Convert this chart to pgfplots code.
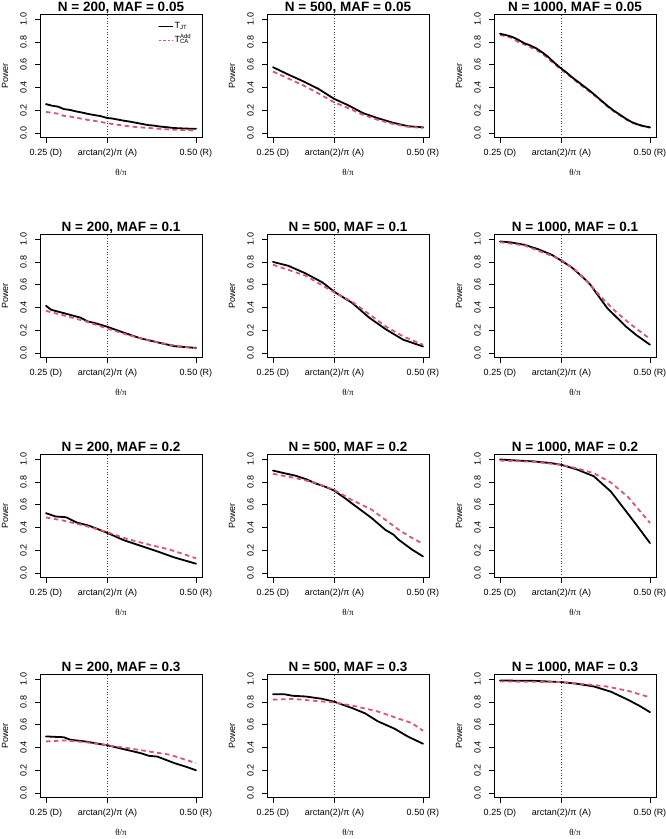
\documentclass[border=0pt]{standalone}
\usepackage{fontspec}
\setmainfont{Liberation Sans}
\newfontfamily\seriffont{Liberation Serif}
\usepackage{pgfplots}
\pgfplotsset{compat=1.18}
\definecolor{rred}{HTML}{DF536B}
\pgfplotsset{
  rpanel/.style={
    scale only axis, width=162pt, height=123pt,
    xmin=0.24, xmax=0.51, ymin=-0.04, ymax=1.04,
    anchor=south west,
    axis line style={line width=0.75pt, black},
    tick align=outside, tick pos=left,
    major tick length=5pt,
    tick style={line width=0.75pt, black},
    xtick={0.25,0.352416,0.5},
    xticklabels={0.25 (D), arctan(2)/π (A), 0.50 (R)},
    ytick={0,0.2,0.4,0.6,0.8,1},
    yticklabels={0.0,0.2,0.4,0.6,0.8,1.0},
    ticklabel style={font=\fontsize{9}{10}\selectfont},
    xticklabel style={anchor=base, inner sep=0pt, yshift=-12.7pt},
    yticklabel style={xshift=-8.3pt, rotate=90, anchor=base, inner sep=0pt},
    xlabel={\seriffont θ/π},
    ylabel={Power},
    label style={font=\fontsize{9}{10}\selectfont},
    xlabel style={at={(axis description cs:0.5,0)}, anchor=base, inner sep=0pt, yshift=-37.7pt},
    ylabel style={at={(axis description cs:-0.1975,0.5)}, anchor=base, inner sep=0pt},
    title style={at={(axis description cs:0.5,1)}, anchor=base, inner sep=0pt, yshift=-2.6pt, font=\bfseries\fontsize{13.5}{15}\selectfont},
  },
  jt/.style={black, line width=1.8pt, line join=round, line cap=round},
  ca/.style={rred, line width=1.8pt, dash pattern=on 4.5pt off 3.5pt, line join=round},
  vline/.style={black!75, line width=0.7pt, dash pattern=on 0.7pt off 2pt, forget plot},
}
\begin{document}
\begin{tikzpicture}
\useasboundingbox (0,0) rectangle (665pt,839pt);
% ---------------- Row 1: MAF = 0.05
\begin{axis}[rpanel, at={(40pt,701.4pt)}, title={N = 200, MAF = 0.05},
  legend style={draw=none, fill=none, at={(axis description cs:0.73,0.85)}, anchor=west, inner sep=0pt,
    font=\fontsize{9}{10}\selectfont, nodes={text height=6.5pt, text depth=2pt, inner sep=1.5pt}, row sep=2.5pt},
  legend cell align=left]
\addplot[vline] coordinates {(0.352416,-0.04) (0.352416,1.04)};
\addplot[jt, legend image code/.code={\draw[black,line width=0.7pt] (0pt,0pt) -- (14pt,0pt);}] coordinates {(0.25,0.254)(0.26,0.24)(0.27,0.232)(0.28,0.21)(0.29,0.203)(0.30,0.19)(0.31,0.18)(0.32,0.168)(0.33,0.158)(0.34,0.15)(0.352,0.132)(0.36,0.128)(0.37,0.118)(0.38,0.108)(0.39,0.10)(0.40,0.09)(0.41,0.08)(0.42,0.07)(0.43,0.065)(0.44,0.057)(0.45,0.052)(0.46,0.046)(0.47,0.042)(0.48,0.04)(0.49,0.038)(0.50,0.037)};
\addlegendentry{T\textsubscript{JT}}
\addplot[ca, legend image code/.code={\draw[rred,line width=0.7pt,dash pattern=on 2.5pt off 2pt] (0pt,0pt) -- (14pt,0pt);}] coordinates {(0.25,0.185)(0.26,0.178)(0.27,0.17)(0.28,0.15)(0.29,0.145)(0.30,0.135)(0.31,0.125)(0.32,0.115)(0.33,0.108)(0.34,0.098)(0.352,0.087)(0.36,0.08)(0.37,0.072)(0.38,0.065)(0.39,0.058)(0.40,0.053)(0.42,0.045)(0.44,0.037)(0.46,0.03)(0.48,0.026)(0.50,0.022)};
\addlegendentry{T\rlap{\textsuperscript{Add}}\textsubscript{CA}}
\end{axis}
\begin{axis}[rpanel, at={(267pt,701.4pt)}, title={N = 500, MAF = 0.05}]
\addplot[vline] coordinates {(0.352416,-0.04) (0.352416,1.04)};
\addplot[jt] coordinates {(0.25,0.578)(0.275,0.515)(0.30,0.455)(0.325,0.39)(0.352,0.30)(0.375,0.245)(0.40,0.175)(0.425,0.13)(0.45,0.09)(0.475,0.06)(0.50,0.05)};
\addplot[ca] coordinates {(0.25,0.54)(0.275,0.48)(0.30,0.42)(0.325,0.35)(0.352,0.27)(0.375,0.22)(0.40,0.16)(0.425,0.115)(0.45,0.08)(0.475,0.055)(0.50,0.045)};
\end{axis}
\begin{axis}[rpanel, at={(494pt,701.4pt)}, title={N = 1000, MAF = 0.05}]
\addplot[vline] coordinates {(0.352416,-0.04) (0.352416,1.04)};
\addplot[ca] coordinates {(0.25,0.86)(0.26,0.85)(0.27,0.835)(0.28,0.80)(0.29,0.78)(0.30,0.755)(0.31,0.73)(0.32,0.70)(0.33,0.655)(0.34,0.61)(0.35,0.565)(0.36,0.525)(0.37,0.485)(0.38,0.44)(0.39,0.40)(0.40,0.36)(0.41,0.32)(0.42,0.275)(0.43,0.23)(0.44,0.19)(0.45,0.155)(0.46,0.12)(0.47,0.092)(0.48,0.072)(0.49,0.058)(0.50,0.047)};
\addplot[jt] coordinates {(0.25,0.872)(0.26,0.86)(0.27,0.845)(0.28,0.82)(0.29,0.79)(0.30,0.77)(0.31,0.745)(0.32,0.71)(0.33,0.67)(0.34,0.62)(0.35,0.575)(0.36,0.535)(0.37,0.49)(0.38,0.45)(0.39,0.41)(0.40,0.37)(0.41,0.325)(0.42,0.28)(0.43,0.235)(0.44,0.195)(0.45,0.16)(0.46,0.125)(0.47,0.095)(0.48,0.075)(0.49,0.06)(0.50,0.05)};
\end{axis}
% ---------------- Row 2: MAF = 0.1
\begin{axis}[rpanel, at={(40pt,481.4pt)}, title={N = 200, MAF = 0.1}]
\addplot[vline] coordinates {(0.352416,-0.04) (0.352416,1.04)};
\addplot[jt] coordinates {(0.25,0.415)(0.2585,0.38)(0.28,0.35)(0.308,0.31)(0.319,0.278)(0.33,0.265)(0.34,0.25)(0.3524,0.23)(0.379,0.18)(0.407,0.13)(0.436,0.094)(0.464,0.06)(0.50,0.045)};
\addplot[ca] coordinates {(0.25,0.37)(0.28,0.33)(0.315,0.28)(0.3524,0.215)(0.386,0.16)(0.421,0.11)(0.457,0.073)(0.50,0.04)};
\end{axis}
\begin{axis}[rpanel, at={(267pt,481.4pt)}, title={N = 500, MAF = 0.1}]
\addplot[vline] coordinates {(0.352416,-0.04) (0.352416,1.04)};
\addplot[jt] coordinates {(0.25,0.80)(0.2756,0.766)(0.304,0.70)(0.3324,0.62)(0.353,0.535)(0.382,0.44)(0.4105,0.31)(0.439,0.205)(0.467,0.117)(0.50,0.058)};
\addplot[ca] coordinates {(0.25,0.775)(0.304,0.68)(0.353,0.53)(0.382,0.45)(0.4105,0.34)(0.439,0.23)(0.467,0.146)(0.50,0.073)};
\end{axis}
\begin{axis}[rpanel, at={(494pt,481.4pt)}, title={N = 1000, MAF = 0.1}]
\addplot[vline] coordinates {(0.352416,-0.04) (0.352416,1.04)};
\addplot[jt] coordinates {(0.25,0.98)(0.2685,0.971)(0.291,0.95)(0.3135,0.912)(0.336,0.863)(0.3517,0.813)(0.3697,0.751)(0.3865,0.673)(0.4006,0.60)(0.4146,0.497)(0.4287,0.395)(0.4427,0.322)(0.4596,0.234)(0.4764,0.161)(0.50,0.073)};
\addplot[ca] coordinates {(0.25,0.974)(0.291,0.944)(0.336,0.854)(0.3517,0.819)(0.3753,0.731)(0.3978,0.614)(0.4202,0.482)(0.4427,0.365)(0.4652,0.263)(0.50,0.123)};
\end{axis}
% ---------------- Row 3: MAF = 0.2
\begin{axis}[rpanel, at={(40pt,261.4pt)}, title={N = 200, MAF = 0.2}]
\addplot[vline] coordinates {(0.352416,-0.04) (0.352416,1.04)};
\addplot[jt] coordinates {(0.25,0.526)(0.2656,0.497)(0.2833,0.49)(0.301,0.444)(0.3222,0.415)(0.3534,0.35)(0.3789,0.29)(0.4072,0.24)(0.4356,0.19)(0.4639,0.137)(0.50,0.082)};
\addplot[ca] coordinates {(0.25,0.488)(0.2797,0.46)(0.3152,0.415)(0.3534,0.357)(0.386,0.298)(0.4214,0.25)(0.4568,0.205)(0.50,0.13)};
\end{axis}
\begin{axis}[rpanel, at={(267pt,261.4pt)}, title={N = 500, MAF = 0.2}]
\addplot[vline] coordinates {(0.352416,-0.04) (0.352416,1.04)};
\addplot[jt] coordinates {(0.25,0.90)(0.2685,0.877)(0.2882,0.854)(0.3079,0.819)(0.3191,0.79)(0.336,0.76)(0.3517,0.725)(0.3697,0.658)(0.3921,0.57)(0.4146,0.482)(0.4371,0.38)(0.4511,0.336)(0.4596,0.292)(0.482,0.205)(0.50,0.146)};
\addplot[ca] coordinates {(0.25,0.871)(0.2882,0.833)(0.3191,0.795)(0.3517,0.731)(0.3809,0.643)(0.4146,0.556)(0.4371,0.468)(0.4596,0.38)(0.482,0.307)(0.50,0.257)};
\end{axis}
\begin{axis}[rpanel, at={(494pt,261.4pt)}, title={N = 1000, MAF = 0.2}]
\addplot[vline] coordinates {(0.352416,-0.04) (0.352416,1.04)};
\addplot[jt] coordinates {(0.25,0.997)(0.2784,0.988)(0.3068,0.98)(0.3352,0.965)(0.3524,0.95)(0.3778,0.91)(0.4063,0.85)(0.4347,0.716)(0.456,0.57)(0.4773,0.424)(0.50,0.263)};
\addplot[ca] coordinates {(0.25,0.988)(0.3068,0.977)(0.3524,0.95)(0.3778,0.92)(0.4063,0.877)(0.4347,0.795)(0.463,0.67)(0.50,0.44)};
\end{axis}
% ---------------- Row 4: MAF = 0.3
\begin{axis}[rpanel, at={(40pt,41.4pt)}, title={N = 200, MAF = 0.3}]
\addplot[vline] coordinates {(0.352416,-0.04) (0.352416,1.04)};
\addplot[jt] coordinates {(0.25,0.497)(0.2797,0.49)(0.2904,0.468)(0.3152,0.453)(0.3534,0.418)(0.3789,0.386)(0.4072,0.351)(0.4214,0.327)(0.4356,0.32)(0.4639,0.263)(0.4851,0.228)(0.50,0.20)};
\addplot[ca] coordinates {(0.25,0.453)(0.2797,0.462)(0.3152,0.447)(0.3534,0.418)(0.386,0.395)(0.4214,0.365)(0.4568,0.336)(0.50,0.263)};
\end{axis}
\begin{axis}[rpanel, at={(267pt,41.4pt)}, title={N = 500, MAF = 0.3}]
\addplot[vline] coordinates {(0.352416,-0.04) (0.352416,1.04)};
\addplot[jt] coordinates {(0.25,0.868)(0.2685,0.868)(0.2827,0.854)(0.304,0.848)(0.3324,0.827)(0.353,0.80)(0.382,0.746)(0.4034,0.70)(0.4247,0.63)(0.453,0.564)(0.4744,0.497)(0.50,0.433)};
\addplot[ca] coordinates {(0.25,0.82)(0.2827,0.827)(0.3182,0.81)(0.353,0.795)(0.389,0.76)(0.4247,0.716)(0.4602,0.652)(0.4815,0.614)(0.50,0.547)};
\end{axis}
\begin{axis}[rpanel, at={(494pt,41.4pt)}, title={N = 1000, MAF = 0.3}]
\addplot[vline] coordinates {(0.352416,-0.04) (0.352416,1.04)};
\addplot[jt] coordinates {(0.25,0.988)(0.3068,0.985)(0.3524,0.974)(0.3778,0.96)(0.4063,0.936)(0.4347,0.89)(0.463,0.82)(0.4844,0.76)(0.50,0.71)};
\addplot[ca] coordinates {(0.25,0.98)(0.3524,0.974)(0.392,0.956)(0.4276,0.936)(0.463,0.898)(0.50,0.84)};
\end{axis}
\end{tikzpicture}
\end{document}
